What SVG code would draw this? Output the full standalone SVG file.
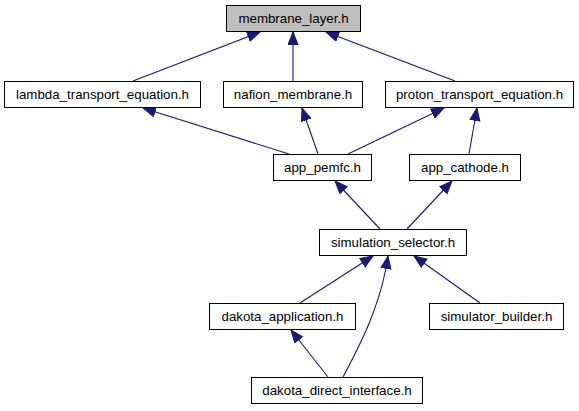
<svg xmlns="http://www.w3.org/2000/svg" width="579" height="411" viewBox="0 0 579 411">
<style>
.n rect{fill:#fff;stroke:#000;stroke-width:1}
.n.hl rect{fill:#bfbfbf}
.n text{font-family:"Liberation Sans",Arial,sans-serif;font-size:13.3px;text-anchor:middle;fill:#000}
.e path{fill:none;stroke:#191970;stroke-width:1.1;marker-end:url(#ah)}
</style>
<defs>
<marker id="ah" markerUnits="userSpaceOnUse" markerWidth="15" markerHeight="12" refX="13" refY="5.5" orient="auto" viewBox="0 0 15 12">
<path d="M0.5,0.5 L13,5.5 L0.5,10.5 z" fill="#191970" stroke="#191970" stroke-width="1"/>
</marker>
</defs>
<rect width="579" height="411" fill="#fff"/>
<g id="edges" class="e">
<path d="M133,81 L260,32"/>
<path d="M293,81 L293,32"/>
<path d="M455,81 L326,32"/>
<path d="M289,154 L143,108"/>
<path d="M318,154 L302,108"/>
<path d="M348,154 L444,108"/>
<path d="M469,154 L477,108"/>
<path d="M380,229 L335,181"/>
<path d="M407,229 L452,181"/>
<path d="M300,303 L373,256"/>
<path d="M343,377 C360,345 378,310 386,268 L388,256"/>
<path d="M480,303 L414,256"/>
<path d="M328,377 L291,330"/>
</g>
<g id="membrane_layer" class="n hl"><rect x="226.5" y="5.5" width="134" height="26"/><text x="293.5" y="23">membrane_layer.h</text></g>
<g id="lambda_transport_equation" class="n"><rect x="4.5" y="81.5" width="196" height="26"/><text x="102.5" y="99">lambda_transport_equation.h</text></g>
<g id="nafion_membrane" class="n"><rect x="223.5" y="81.5" width="139" height="26"/><text x="293" y="99">nafion_membrane.h</text></g>
<g id="proton_transport_equation" class="n"><rect x="385.5" y="81.5" width="188" height="26"/><text x="479.5" y="99">proton_transport_equation.h</text></g>
<g id="app_pemfc" class="n"><rect x="273.5" y="154.5" width="98" height="26"/><text x="322.5" y="172">app_pemfc.h</text></g>
<g id="app_cathode" class="n"><rect x="409.5" y="154.5" width="111" height="26"/><text x="465" y="172">app_cathode.h</text></g>
<g id="simulation_selector" class="n"><rect x="319.5" y="229.5" width="147" height="26"/><text x="393" y="247">simulation_selector.h</text></g>
<g id="dakota_application" class="n"><rect x="209.5" y="303.5" width="146" height="26"/><text x="282.5" y="321">dakota_application.h</text></g>
<g id="simulator_builder" class="n"><rect x="429.5" y="303.5" width="134" height="26"/><text x="496.5" y="321">simulator_builder.h</text></g>
<g id="dakota_direct_interface" class="n"><rect x="251.5" y="377.5" width="171" height="26"/><text x="337" y="395">dakota_direct_interface.h</text></g>
</svg>
